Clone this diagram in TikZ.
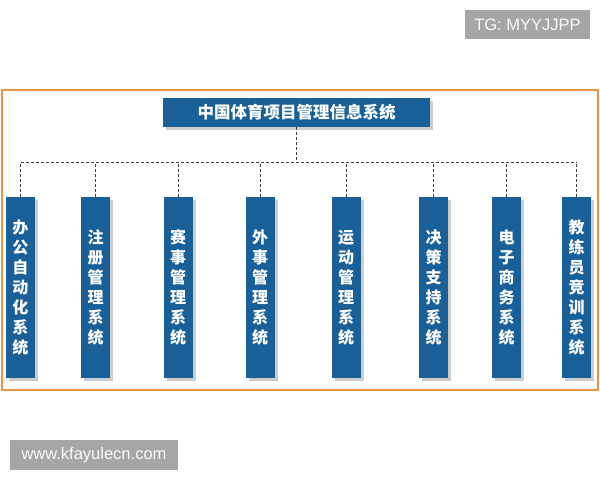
\documentclass[tikz,border=0pt]{standalone}
\usepackage{fontspec}
\usepackage{tikz}
\usetikzlibrary{positioning, shadows}
\newfontfamily\cjk{Noto Sans CJK SC}
\newfontfamily\wmfont{Liberation Sans}
\definecolor{boxblue}{RGB}{26,96,152}
\definecolor{frameorange}{RGB}{232,150,70}
\definecolor{wmgray}{RGB}{166,166,166}

\begin{document}
\begin{tikzpicture}[x=1pt,y=-1pt,
  sysbox/.style={fill=boxblue, text=white, inner sep=0pt,
    font=\cjk\bfseries\fontsize{16}{20}\selectfont, align=center,
    minimum width=29pt, minimum height=181pt,
    drop shadow={shadow xshift=3pt, shadow yshift=-3pt, fill=black, opacity=0.2}},
  topbox/.style={sysbox, minimum width=267pt, minimum height=29pt,
    font=\cjk\bfseries\fontsize{16.5}{18}\selectfont},
  link/.style={thick, color=black!75, dash pattern=on 3pt off 2pt},
  wmbox/.style={fill=wmgray, text=white!95!gray, inner sep=0pt,
    font=\wmfont\fontsize{16.5}{18}\selectfont}]
\useasboundingbox (0,0) rectangle (600,480);
\fill[white] (0,0) rectangle (600,480);
%orange frame round the chart
\draw[frameorange, line width=1.2pt] (2,90) rectangle (598,390);
%top system
\node[topbox] (title) at (296.5,112.5) {中国体育项目管理信息系统};
%the eight subsystems
\node[sysbox] (oa)    at (20.5,287.5)  {办\\公\\自\\动\\化\\系\\统};
\node[sysbox] (reg)   at (95.5,287.5)  {注\\册\\管\\理\\系\\统};
\node[sysbox] (match) at (178,287.5)   {赛\\事\\管\\理\\系\\统};
\node[sysbox] (fa)    at (260,287.5)   {外\\事\\管\\理\\系\\统};
\node[sysbox] (sport) at (346,287.5)   {运\\动\\管\\理\\系\\统};
\node[sysbox] (dss)   at (433.5,287.5) {决\\策\\支\\持\\系\\统};
\node[sysbox] (ec)    at (506.5,287.5) {电\\子\\商\\务\\系\\统};
\node[sysbox] (coach) at (576.5,287.5) {教\\练\\员\\竞\\训\\系\\统};
%dashed tree lines
\coordinate (bus) at (title.south |- 0,162);
\draw[link] (title.south) -- (bus);
\draw[link] (oa.north |- bus) -- (coach.north |- bus);
\draw[link] (oa.north) -- (oa.north |- bus);
\draw[link] (reg.north) -- (reg.north |- bus);
\draw[link] (match.north) -- (match.north |- bus);
\draw[link] (fa.north) -- (fa.north |- bus);
\draw[link] (sport.north) -- (sport.north |- bus);
\draw[link] (dss.north) -- (dss.north |- bus);
\draw[link] (ec.north) -- (ec.north |- bus);
\draw[link] (coach.north) -- (coach.north |- bus);
%watermarks
\node[wmbox, minimum width=125pt, minimum height=29pt] (tg) at (527.5,24.5) {TG: MYYJJPP};
\node[wmbox, minimum width=168pt, minimum height=30pt] (web) at (94,455) {www.kfayulecn.com};
\end{tikzpicture}
\end{document}
